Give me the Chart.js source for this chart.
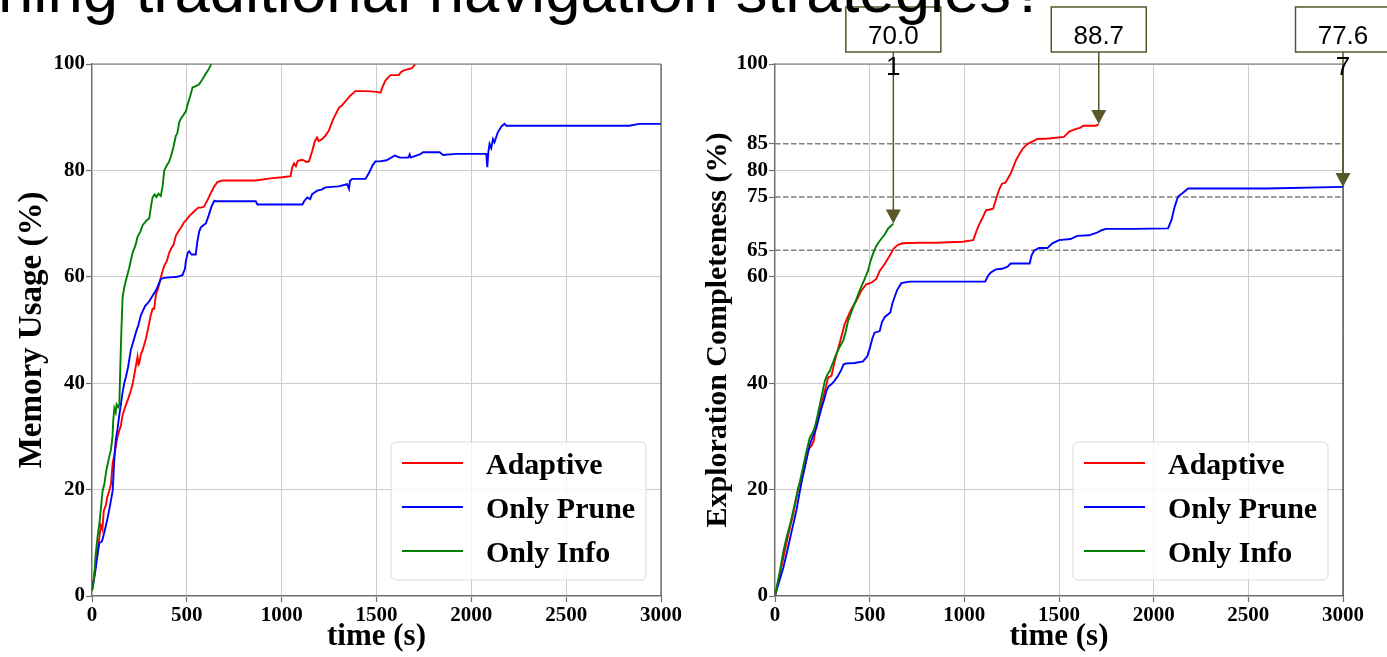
<!DOCTYPE html>
<html>
<head>
<meta charset="utf-8">
<script src="https://cdn.jsdelivr.net/npm/chart.js@4.4.0/dist/chart.umd.min.js"></script>
<style>
  body { margin: 0; background: #fff; overflow: hidden; }
  #wrap { position: relative; width: 1387px; height: 657px; overflow: hidden; }
  canvas { position: absolute; top: 0; }
  #head {
    position: absolute; left: -2px; top: -41px; z-index: 5;
    font: 63.5px/63.5px 'Liberation Sans', Arial, sans-serif; color: #000; white-space: nowrap;
  }
</style>
</head>
<body>
<div id="wrap">
  <canvas id="mem" width="690" height="657" style="left:0"></canvas>
  <canvas id="exp" width="697" height="657" style="left:690px"></canvas>
  <div id="head">ning traditional navigation strategies?</div>
</div>
<script>
// series as [time (s), percent] pairs
const seriesNames = ['Adaptive', 'Only Prune', 'Only Info'];
const seriesColors = ['#ff0000', '#0000ff', '#008000'];

const memAdaptive = [[0,1],[20,6],[35,10],[47,13.3],[55,12.5],[62,16],[74,17.2],[80,18.5],[91,19.8],[100,21],[109,25],[118,26.5],[125,28],[135,30],[144,31.1],[152,32],[161,34],[175,35.5],[190,37],[205,38.6],[215,40],[225,42],[240,45],[245,43.5],[249,43.7],[258,45.5],[265,46],[284,48.3],[297,50.5],[310,52.8],[320,54],[328,54],[337,56.7],[350,58],[363,59.9],[380,62],[395,63],[407,64.5],[420,65.5],[430,66],[442,67.7],[455,68.5],[470,69.3],[486,70.3],[500,70.8],[515,71.5],[530,72],[547,72.6],[560,73],[575,73],[591,73.2],[610,74.5],[630,76],[645,77],[661,77.8],[688,78.1],[760,78.1],[863,78.1],[940,78.5],[1003,78.7],[1047,78.9],[1055,80.5],[1065,81.3],[1075,80.8],[1085,81.8],[1109,82],[1130,81.6],[1144,81.7],[1160,83.5],[1175,85.5],[1187,86.2],[1195,85.5],[1214,85.9],[1230,86.5],[1249,87.5],[1270,89.5],[1301,91.7],[1320,92.3],[1337,93],[1360,94],[1389,94.9],[1442,94.9],[1490,94.8],[1521,94.6],[1530,95.5],[1547,96.9],[1573,97.9],[1617,97.9],[1630,98.5],[1644,98.8],[1687,99.2],[1705,100]];
const memPrune = [[0,1],[15,4],[30,8],[39,10],[50,10.2],[56,10.7],[65,12],[82,14.6],[95,17],[109,19.8],[115,24],[120,27],[126,29.5],[135,31.5],[144,34],[160,38],[170,40],[179,41.2],[190,43],[205,46.3],[215,47.5],[232,49.6],[245,51],[258,52.8],[280,54.5],[302,55.4],[320,56.5],[337,57.4],[350,58.5],[363,59.6],[380,59.8],[407,59.9],[450,60],[477,60.3],[490,61.5],[495,63],[505,64.5],[512,64.8],[525,64.2],[547,64.2],[555,66.5],[565,68.5],[574,69.3],[590,69.8],[600,70],[615,71.5],[628,73],[635,73.6],[645,74.3],[652,74.2],[700,74.2],[863,74.2],[872,73.6],[1000,73.6],[1109,73.6],[1120,74.3],[1135,74.9],[1150,74.6],[1160,75.5],[1187,76.2],[1210,76.4],[1231,76.8],[1300,77],[1345,77.4],[1355,76.5],[1360,78],[1372,78.4],[1442,78.4],[1460,79.5],[1480,81],[1494,81.7],[1518,81.7],[1553,81.9],[1597,82.8],[1623,82.4],[1667,82.4],[1675,83],[1680,82.4],[1728,83],[1746,83.4],[1833,83.4],[1851,82.9],[1921,83.1],[2079,83.1],[2084,80.6],[2090,83.5],[2096,85],[2105,84.2],[2114,85.9],[2122,85.3],[2140,87.2],[2160,88.3],[2175,88.75],[2184,88.4],[2570,88.4],[2833,88.4],[2886,88.75],[3000,88.75]];
const memInfo = [[0,1],[10,3],[20,8],[30,11.3],[40,14],[56,19.8],[65,21],[75,23.5],[91,26.2],[100,27.5],[108,30],[112,33],[118,35.3],[125,34.5],[130,36],[138,35.5],[144,36],[150,44],[155,50],[161,56],[170,58],[179,59.3],[195,61.5],[214,64.5],[230,66],[240,67.5],[255,68.5],[267,69.7],[285,70.5],[302,71],[310,73],[319,74.9],[330,75.5],[340,75],[350,75.6],[363,75.2],[372,77],[381,80],[395,81],[405,81.5],[416,82.6],[430,84.5],[442,86.5],[450,87],[460,89.1],[470,89.8],[480,90.3],[495,91.1],[505,92.5],[518,94],[530,95.6],[545,95.8],[565,96.2],[580,97],[600,98.2],[612,98.8],[626,99.8],[632,100.5]];

const expAdaptive = [[0,0],[20,3.3],[44,7.2],[70,11.5],[96,15.4],[110,18],[123,20.4],[135,21.5],[149,22.9],[162,25],[175,27.3],[184,27.9],[194,28.3],[205,29.2],[219,32.3],[232,34.2],[246,36],[263,38.5],[281,41.1],[298,41.4],[316,44.2],[342,47.6],[368,51.1],[385,52.5],[403,53.9],[430,55.5],[456,57.4],[482,58.6],[509,58.9],[535,59.6],[553,61.1],[579,62.4],[605,63.9],[627,65.3],[649,66],[675,66.3],[760,66.4],[851,66.4],[920,66.5],[991,66.6],[1047,66.9],[1063,68.5],[1079,69.9],[1095,71],[1114,72.5],[1130,72.6],[1152,72.8],[1171,75],[1185,76.5],[1199,77.5],[1217,77.7],[1245,79.4],[1274,82],[1295,83.3],[1311,84.2],[1335,85],[1358,85.4],[1386,85.9],[1447,86],[1526,86.3],[1554,87.3],[1583,87.7],[1610,88],[1629,88.4],[1695,88.4],[1710,88.7]];
const expPrune = [[0,0],[20,2.5],[44,5.3],[65,8.5],[88,12.2],[100,14],[114,16.3],[130,19.5],[149,22.9],[165,25.5],[184,28.5],[200,30],[219,31.7],[232,33.5],[246,35.4],[260,37],[272,38.6],[285,39.5],[298,39.8],[315,40.5],[333,41.4],[350,42.5],[362,43.5],[374,43.7],[420,43.8],[465,44.1],[488,45.1],[500,46.5],[515,48.5],[526,49.5],[553,49.8],[565,51.5],[579,52.4],[609,53.3],[620,55],[631,56.1],[645,57.5],[667,58.8],[710,59.1],[900,59.1],[1110,59.1],[1125,60.2],[1140,60.8],[1166,61.4],[1200,61.5],[1228,61.9],[1245,62.5],[1345,62.5],[1355,64],[1368,64.9],[1394,65.4],[1438,65.4],[1465,66.3],[1500,66.9],[1561,67.1],[1596,67.7],[1658,67.8],[1701,68.3],[1728,68.8],[1749,69],[1900,69],[2076,69.1],[2094,70.7],[2111,73.2],[2129,75.1],[2155,75.8],[2182,76.6],[2597,76.6],[3000,76.9]];
const expInfo = [[0,0],[26,4.7],[45,8.5],[61,11],[80,13.5],[96,16],[115,19],[132,21.6],[150,24.5],[167,27.3],[184,29.8],[200,30.8],[210,31.7],[225,34],[237,36],[250,38.2],[263,40.4],[275,41.5],[289,42.3],[305,43.8],[324,45.5],[340,46.7],[360,48],[372,49.5],[386,51.7],[400,53],[412,54.2],[430,55.8],[447,57.4],[470,59.3],[491,61.1],[505,63],[517,64.3],[535,65.8],[548,66.5],[561,67.1],[580,68],[596,69],[610,69.5],[625,70]];

const timeTicks = [0, 500, 1000, 1500, 2000, 2500, 3000];
const memTicks = [0, 20, 40, 60, 80, 100];
const expTicks = [0, 20, 40, 60, 65, 75, 80, 85, 100];
const expRefLevels = [65, 75, 85];
// annotation text per series of the right plot (Adaptive, Only Prune, Only Info)
const expNoteText = [['88.7'], ['77.6', '7'], ['70.0', '1']];

const SERIF = "'Liberation Serif', 'Times New Roman', serif";
const SANS = "'Liberation Sans', Arial, sans-serif";
const SPINE = '#6e6e6e';
const GRID = '#cccccc';
const OLIVE = '#57572a';

function pts(arr) {
    return arr.map(function(p) { return { x: p[0], y: p[1] }; });
}

function lineSet(label, arr, color, order) {
    return {
        label: label,
        data: pts(arr),
        borderColor: color,
        backgroundColor: color,
        borderWidth: 1.9,
        pointRadius: 0,
        tension: 0,
        order: order,
        isSeries: true
    };
}

// top and right spines
const framePlugin = {
    id: 'frame',
    afterDatasetsDraw(chart, args, opts) {
        const ctx = chart.ctx;
        const a = chart.chartArea;
        ctx.save();
        ctx.lineWidth = 1.2;
        ctx.strokeStyle = SPINE;
        ctx.beginPath();
        ctx.moveTo(a.left, a.top);
        ctx.lineTo(a.right, a.top);
        ctx.stroke();
        ctx.strokeStyle = opts.rightColor || SPINE;
        ctx.beginPath();
        ctx.moveTo(a.right, a.top);
        ctx.lineTo(a.right, a.bottom);
        ctx.stroke();
        ctx.restore();
    }
};

// matplotlib style legend in the lower right corner
const boxLegend = {
    id: 'boxLegend',
    afterDatasetsDraw(chart) {
        const ctx = chart.ctx;
        const a = chart.chartArea;
        const w = 255, h = 138;
        const x = a.right - 15 - w;
        const y = a.bottom - 16 - h;
        ctx.save();
        ctx.beginPath();
        ctx.roundRect(x, y, w, h, 5);
        ctx.fillStyle = 'rgba(255,255,255,0.8)';
        ctx.fill();
        ctx.strokeStyle = '#d9d9d9';
        ctx.lineWidth = 1;
        ctx.stroke();
        ctx.font = 'bold 30px ' + SERIF;
        ctx.textBaseline = 'alphabetic';
        ctx.textAlign = 'left';
        seriesNames.forEach(function(name, i) {
            const yy = y + 21 + i * 44;
            ctx.strokeStyle = seriesColors[i];
            ctx.lineWidth = 1.9;
            ctx.beginPath();
            ctx.moveTo(x + 11, yy);
            ctx.lineTo(x + 72, yy);
            ctx.stroke();
            ctx.fillStyle = '#000';
            ctx.fillText(name, x + 95, yy + 11);
        });
        ctx.restore();
    }
};

// boxed value labels with arrows pointing at the end of each curve
const notePlugin = {
    id: 'notes',
    afterDatasetsDraw(chart) {
        const ctx = chart.ctx;
        const xs = chart.scales.x, ys = chart.scales.y;
        const series = chart.data.datasets.filter(function(d) { return d.isSeries; });
        ctx.save();
        series.forEach(function(ds, i) {
            const last = ds.data[ds.data.length - 1];
            const px = xs.getPixelForValue(last.x);
            const py = ys.getPixelForValue(last.y);
            const text = expNoteText[i];
            const bw = 95, bh = 45, top = 7;
            const bx = px - bw / 2;
            // arrow
            ctx.strokeStyle = OLIVE;
            ctx.fillStyle = OLIVE;
            ctx.lineWidth = 1.5;
            ctx.beginPath();
            ctx.moveTo(px, top + bh);
            ctx.lineTo(px, py - 13);
            ctx.stroke();
            ctx.beginPath();
            ctx.moveTo(px - 7.5, py - 14);
            ctx.lineTo(px + 7.5, py - 14);
            ctx.lineTo(px, py);
            ctx.closePath();
            ctx.fill();
            // box
            ctx.fillStyle = '#fff';
            ctx.fillRect(bx, top, bw, bh);
            ctx.strokeRect(bx, top, bw, bh);
            ctx.fillStyle = '#000';
            ctx.font = '26px ' + SANS;
            ctx.textAlign = 'center';
            ctx.textBaseline = 'alphabetic';
            ctx.fillText(text[0], px, top + 37);
            if (text[1]) ctx.fillText(text[1], px, top + 68);
        });
        ctx.restore();
    }
};

function tickFont() {
    return { family: SERIF, size: 21, weight: 'bold' };
}

function xAxis() {
    return {
        type: 'linear',
        min: 0,
        max: 3000,
        afterBuildTicks: function(s) { s.ticks = timeTicks.map(function(v) { return { value: v }; }); },
        afterFit: function(s) { s.height = 61; },
        ticks: {
            font: tickFont(), color: '#000', padding: 1, maxRotation: 0,
            callback: function(v) { return String(v); }
        },
        grid: { color: GRID, lineWidth: 1, tickLength: 6, tickColor: SPINE, tickWidth: 1.2 },
        border: { color: SPINE, width: 1.2 },
        title: {
            display: true, text: 'time (s)', color: '#000',
            font: { family: SERIF, size: 31, weight: 'bold' },
            padding: { top: 0, bottom: 1 }
        }
    };
}

function yAxis(ticks, title, width, titlePad, titleSize, gridColor) {
    return {
        type: 'linear',
        min: 0,
        max: 100,
        afterBuildTicks: function(s) { s.ticks = ticks.map(function(v) { return { value: v }; }); },
        afterFit: function(s) { s.width = width; },
        ticks: {
            font: tickFont(), color: '#000', padding: 1,
            callback: function(v) { return String(v); }
        },
        grid: { color: gridColor, lineWidth: 1, tickLength: 6, tickColor: SPINE, tickWidth: 1.2 },
        border: { color: SPINE, width: 1.2 },
        title: {
            display: true, text: title, color: '#000',
            font: { family: SERIF, size: titleSize, weight: 'bold' },
            padding: { top: titlePad, bottom: 0 }
        }
    };
}

function baseOptions(scales, padding, frameOpts) {
    return {
        responsive: false,
        animation: false,
        events: [],
        layout: { padding: padding },
        plugins: {
            legend: { display: false },
            tooltip: { enabled: false },
            frame: frameOpts
        },
        scales: scales
    };
}

// left: memory usage
new Chart(document.getElementById('mem').getContext('2d'), {
    type: 'line',
    data: {
        datasets: [
            lineSet(seriesNames[0], memAdaptive, seriesColors[0], 2),
            lineSet(seriesNames[1], memPrune, seriesColors[1], 1),
            lineSet(seriesNames[2], memInfo, seriesColors[2], 0)
        ]
    },
    options: baseOptions(
        { x: xAxis(), y: yAxis(memTicks, 'Memory Usage (%)', 92, 13, 33, GRID) },
        { top: 64, right: 29, left: 0, bottom: 0 },
        { rightColor: '#555' }
    ),
    plugins: [framePlugin, boxLegend]
});

// right: exploration completeness
const refSets = expRefLevels.map(function(level) {
    return {
        data: [{ x: 0, y: level }, { x: 3000, y: level }],
        borderColor: '#808080',
        borderWidth: 1.5,
        borderDash: [5.5, 2.5],
        pointRadius: 0,
        order: 5
    };
});

new Chart(document.getElementById('exp').getContext('2d'), {
    type: 'line',
    data: {
        datasets: [
            lineSet(seriesNames[0], expAdaptive, seriesColors[0], 2),
            lineSet(seriesNames[1], expPrune, seriesColors[1], 1),
            lineSet(seriesNames[2], expInfo, seriesColors[2], 0)
        ].concat(refSets)
    },
    options: baseOptions(
        {
            x: xAxis(),
            y: yAxis(expTicks, 'Exploration Completeness (%)', 85, 10, 30, function(c) {
                return expRefLevels.indexOf(c.tick && c.tick.value) >= 0 ? 'rgba(0,0,0,0)' : GRID;
            })
        },
        { top: 64, right: 44, left: 0, bottom: 0 },
        { rightColor: '#333' }
    ),
    plugins: [framePlugin, boxLegend, notePlugin]
});
</script>
</body>
</html>
